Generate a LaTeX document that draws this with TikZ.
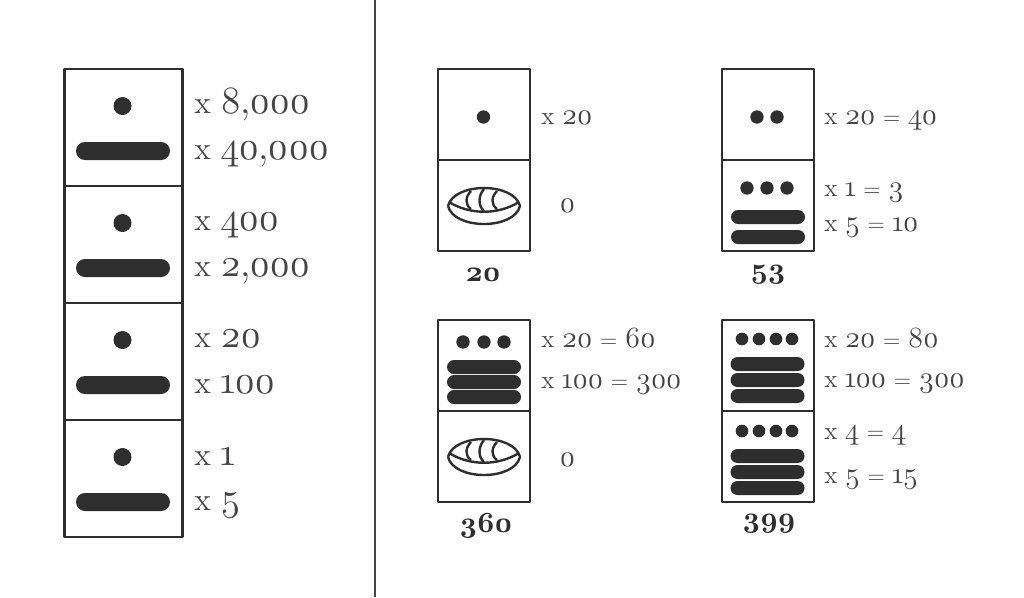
\documentclass[tikz,border=0pt]{standalone}
\usepackage{fontspec}
\setmainfont{lmroman12-regular.otf}[Numbers=OldStyle,LetterSpace=-3.5,WordSpace=0.85,BoldFont=lmroman10-bold.otf,BoldFeatures={Numbers=OldStyle,LetterSpace=-5}]
\definecolor{ink}{HTML}{2E2E2E}
\definecolor{txt}{HTML}{444444}
\usetikzlibrary{shapes.misc}
\newcommand{\bx}{{\fontsize{24}{24}\selectfont x}}
\newcommand{\sx}{{\fontsize{19}{19}\selectfont x}}
\newcommand{\se}{{\fontsize{17}{17}\selectfont =}}
\tikzset{
  cell/.style={draw=ink,line width=2.2pt,minimum width=#1,inner sep=0pt,rectangle},
  spot/.style={circle,fill=ink,minimum size=#1,inner sep=0pt},
  bar/.style 2 args={rounded rectangle,fill=ink,minimum width=#1,minimum height=#2,inner sep=0pt},
  big/.style={anchor=base west,inner sep=0pt,text=txt,font=\fontsize{29}{29}\selectfont},
  small/.style={anchor=base west,inner sep=0pt,text=txt,font=\fontsize{22}{22}\selectfont},
  total/.style={anchor=base,inner sep=0pt,text=ink,font=\fontsize{22}{22}\selectfont\bfseries},
  zeroglyph/.pic={
    \draw[ink,line width=1.8pt] (-36,0) .. controls (-30,-24) and (30,-24) .. (36,0)
      .. controls (30,24) and (-30,24) .. (-36,0);
    \draw[ink,line width=1.8pt] (-35,-4) .. controls (-14,9) and (14,9) .. (35,-4);
    \draw[ink,line width=1.8pt] (-13,-15) .. controls (-19,-9) and (-19,-1) .. (-13,3);
    \draw[ink,line width=1.8pt] (0,-17) .. controls (-6,-10) and (-6,0) .. (0,5);
    \draw[ink,line width=1.8pt] (13,-15) .. controls (7,-9) and (7,-1) .. (13,3);
  }
}
\begin{document}
\begin{tikzpicture}[x=0.75pt,y=-0.75pt,line join=round]
\useasboundingbox (0,0) rectangle (1024,597);
\draw[ink!90,line width=2.2pt] (375,0)--(375,597);
% left column
\foreach \t [count=\i] in {69,186,303,420}{
  \node[cell=88pt,minimum height=87.75pt] (col\i) at (123.5,\t+58.5) {};
  \node[spot=13.5pt] (coldot\i) at (122.5,\t+37) {};
  \node[bar={70.5pt}{13.5pt}] (colbar\i) at (123,\t+82) {};
}
\node[big] (a1) at (194,113) {\bx{} 8,000};
\node[big] (a2) at (194,159) {\bx{} 40,000};
\node[big] (a3) at (194,230) {\bx{} 400};
\node[big] (a4) at (194,276) {\bx{} 2,000};
\node[big] (a5) at (194,347) {\bx{} 20};
\node[big] (a6) at (194,393) {\bx{} 100};
\node[big] (a7) at (194,465) {\bx{} 1};
\node[big] (a8) at (194,510) {\bx{} 5};
% the four numbers
\foreach \n/\x/\y in {p/438/69,q/722/69,r/438/320,s/722/320}{
  \node[cell=69pt,minimum height=68.25pt] (\n top) at (\x+46,\y+45.5) {};
  \node[cell=69pt,minimum height=68.25pt] (\n low) at (\x+46,\y+136.5) {};
}
% 20
\node[spot=10pt] (p1) at (483.5,117) {};
\pic at (484,206) {zeroglyph};
\node[small] (pa) at (541,124) {\sx{} 20};
\node[small] (pb) at (559,212) {0};
\node[total] (pt) at (483,281) {20};
% 53
\foreach \x in {757,777} \node[spot=10pt] (q\x) at (\x,117) {};
\foreach \x in {747,767,787} \node[spot=10pt] (q\x) at (\x,188) {};
\foreach \y in {217,237} \node[bar={55.5pt}{10.5pt}] (qb\y) at (768,\y) {};
\node[small] (qa) at (824,124) {\sx{} 20 \se{} 40};
\node[small] (qc) at (824,196) {\sx{} 1 \se{} 3};
\node[small] (qd) at (824,231) {\sx{} 5 \se{} 10};
\node[total] (qt) at (768,278) {53};
% 360
\foreach \x in {463,484,504} \node[spot=10pt] (r\x) at (\x,342) {};
\foreach \y in {367,382,397} \node[bar={55.5pt}{10.5pt}] (rb\y) at (484,\y) {};
\pic at (484,457) {zeroglyph};
\node[small] (ra) at (541,347) {\sx{} 20 \se{} 60};
\node[small] (rc) at (541,388) {\sx{} 100 \se{} 300};
\node[small] (rd) at (559,466) {0};
\node[total] (rt) at (486,532) {360};
% 399
\foreach \x in {742,759,776,792}{
  \node[spot=9.5pt] (s\x) at (\x,339) {};
  \node[spot=9.5pt] (t\x) at (\x,431) {};
}
\foreach \y in {364,380,396,456,472,488} \node[bar={55.5pt}{10.5pt}] (sb\y) at (767.5,\y) {};
\node[small] (sa) at (824,347) {\sx{} 20 \se{} 80};
\node[small] (sc) at (824,387) {\sx{} 100 \se{} 300};
\node[small] (sd) at (824,439) {\sx{} 4 \se{} 4};
\node[small] (se) at (824,483) {\sx{} 5 \se{} 15};
\node[total] (st) at (769,527) {399};
\end{tikzpicture}
\end{document}
